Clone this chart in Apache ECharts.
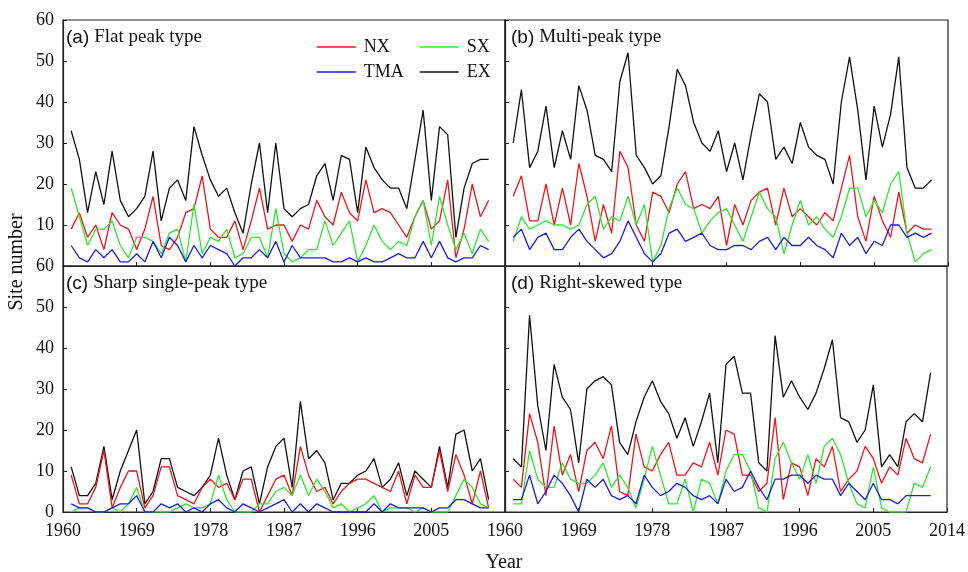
<!DOCTYPE html>
<html>
<head>
<meta charset="utf-8">
<title>Site number by year</title>
<script src="https://cdn.jsdelivr.net/npm/echarts@6/dist/echarts.min.js"></script>
<style>
  html, body { margin: 0; padding: 0; background: #fff; }
  #chart { width: 968px; height: 572px; }
</style>
</head>
<body>
<div id="chart"></div>
<script>
// years 1961..2012, one point per year
const years = Array.from({ length: 52 }, (_, i) => 1961 + i)

// (a) Flat peak type
const aNX = [9, 13, 7, 10, 4, 13, 10, 9, 4, 9, 17, 5, 4, 7, 13, 14, 22, 9, 7, 7, 11, 4, 11, 19, 9, 10, 10, 6, 10, 9, 16, 12, 10, 18, 13, 11, 21, 13, 14, 13, 10, 7, 12, 16, 9, 11, 21, 2, 9, 20, 12, 16]
const aSX = [19, 12, 5, 9, 9, 11, 5, 2, 7, 7, 6, 3, 8, 9, 1, 15, 3, 7, 6, 9, 2, 3, 7, 7, 2, 14, 3, 1, 2, 4, 4, 11, 5, 8, 11, 1, 5, 10, 6, 4, 6, 5, 12, 16, 5, 17, 10, 4, 8, 3, 9, 6]
const aTMA = [5, 2, 1, 4, 2, 4, 1, 1, 3, 1, 6, 2, 7, 5, 1, 5, 2, 5, 4, 3, 0, 2, 2, 4, 2, 6, 1, 5, 2, 2, 2, 2, 1, 1, 2, 1, 2, 1, 1, 2, 3, 2, 2, 6, 2, 6, 2, 1, 2, 2, 5, 4]
const aEX = [33, 26, 13, 23, 15, 28, 16, 12, 14, 17, 28, 11, 19, 21, 16, 34, 27, 21, 17, 19, 13, 8, 20, 30, 13, 30, 14, 12, 14, 15, 22, 25, 16, 27, 26, 13, 29, 24, 21, 19, 19, 14, 26, 38, 16, 34, 32, 7, 19, 25, 26, 26]

// (b) Multi-peak type
const bNX = [17, 22, 11, 11, 20, 10, 19, 10, 25, 17, 6, 15, 8, 28, 24, 10, 6, 18, 17, 13, 20, 23, 14, 15, 14, 17, 5, 15, 10, 16, 18, 19, 10, 19, 12, 14, 12, 10, 13, 11, 19, 27, 12, 6, 17, 11, 7, 18, 8, 10, 9, 9]
const bSX = [6, 12, 9, 10, 11, 10, 10, 9, 10, 15, 17, 9, 12, 11, 17, 10, 15, 1, 5, 14, 19, 15, 14, 8, 11, 13, 14, 10, 6, 12, 18, 14, 12, 3, 10, 16, 10, 12, 9, 7, 12, 19, 19, 12, 16, 13, 20, 23, 8, 1, 3, 4]
const bTMA = [7, 9, 4, 7, 8, 4, 4, 7, 9, 6, 4, 2, 3, 6, 11, 7, 3, 1, 3, 8, 9, 6, 7, 8, 5, 4, 4, 5, 5, 4, 6, 7, 4, 7, 5, 5, 7, 5, 4, 2, 8, 5, 7, 3, 6, 5, 10, 10, 7, 8, 7, 8]
const bEX = [30, 43, 24, 28, 39, 24, 33, 26, 44, 38, 27, 26, 23, 45, 52, 27, 24, 20, 22, 34, 48, 44, 35, 30, 28, 33, 23, 30, 21, 32, 42, 40, 26, 29, 25, 35, 29, 27, 26, 20, 40, 51, 38, 21, 39, 29, 37, 51, 24, 19, 19, 21]

// (c) Sharp single-peak type
const cNX = [9, 2, 2, 6, 15, 1, 6, 10, 10, 1, 4, 11, 11, 4, 3, 2, 6, 8, 6, 7, 3, 8, 8, 0, 4, 8, 9, 4, 16, 9, 5, 6, 2, 5, 7, 8, 8, 7, 6, 5, 10, 2, 9, 6, 6, 15, 5, 14, 9, 2, 10, 1]
const cSX = [0, 1, 1, 0, 0, 1, 0, 2, 6, 0, 0, 0, 0, 1, 2, 1, 1, 2, 9, 3, 0, 0, 0, 2, 2, 5, 6, 4, 9, 4, 8, 5, 1, 2, 0, 1, 2, 4, 0, 1, 1, 1, 0, 1, 0, 0, 0, 4, 8, 6, 2, 1]
const cTMA = [2, 1, 1, 0, 0, 1, 2, 2, 4, 0, 0, 2, 1, 2, 0, 1, 0, 2, 3, 1, 0, 2, 1, 0, 1, 2, 3, 0, 2, 0, 2, 1, 0, 0, 0, 0, 0, 2, 0, 2, 1, 1, 1, 1, 0, 1, 1, 3, 3, 2, 1, 1]
const cEX = [11, 4, 4, 7, 16, 3, 10, 15, 20, 2, 5, 13, 13, 6, 5, 4, 6, 9, 18, 9, 3, 10, 11, 2, 11, 16, 18, 6, 27, 13, 15, 12, 3, 7, 7, 9, 10, 13, 6, 8, 12, 4, 10, 8, 6, 16, 6, 19, 20, 10, 13, 3]

// (d) Right-skewed type
const dNX = [8, 6, 24, 17, 4, 21, 9, 14, 5, 15, 17, 13, 21, 5, 4, 19, 11, 10, 14, 17, 9, 9, 12, 11, 17, 9, 20, 19, 9, 9, 5, 7, 23, 3, 12, 11, 4, 13, 11, 16, 5, 8, 10, 16, 13, 7, 11, 9, 18, 13, 12, 19]
const dSX = [2, 2, 15, 8, 6, 6, 12, 8, 7, 7, 9, 12, 6, 9, 6, 1, 8, 16, 9, 2, 2, 8, 0, 8, 7, 2, 10, 14, 14, 10, 1, 0, 13, 17, 12, 8, 14, 7, 16, 18, 14, 7, 2, 1, 11, 1, 0, 0, 0, 7, 6, 11]
const dTMA = [3, 3, 9, 2, 5, 9, 7, 4, 0, 8, 6, 8, 4, 3, 4, 2, 9, 6, 4, 5, 7, 6, 4, 3, 4, 2, 8, 5, 6, 10, 6, 3, 8, 8, 9, 9, 7, 9, 8, 8, 4, 7, 5, 3, 7, 3, 3, 2, 4, 4, 4, 4]
const dEX = [13, 11, 48, 26, 15, 36, 28, 25, 12, 30, 32, 33, 31, 17, 14, 22, 28, 32, 27, 24, 18, 23, 16, 22, 29, 12, 36, 38, 29, 29, 12, 10, 43, 28, 32, 28, 25, 29, 35, 42, 23, 22, 17, 20, 31, 11, 14, 11, 22, 24, 22, 34]

const panels = [
  { tag: '(a)', name: 'Flat peak type', NX: aNX, SX: aSX, TMA: aTMA, EX: aEX },
  { tag: '(b)', name: 'Multi-peak type', NX: bNX, SX: bSX, TMA: bTMA, EX: bEX },
  { tag: '(c)', name: 'Sharp single-peak type', NX: cNX, SX: cSX, TMA: cTMA, EX: cEX },
  { tag: '(d)', name: 'Right-skewed type', NX: dNX, SX: dSX, TMA: dTMA, EX: dEX }
]
const colors = { NX: '#f0141c', SX: '#2ee82e', TMA: '#1c1ce6', EX: '#111111' }

const serif = 'Liberation Serif'
const boxes = [
  { left: 63, top: 20 },
  { left: 505, top: 20 },
  { left: 63, top: 266 },
  { left: 505, top: 266 }
]

let chart = echarts.init(document.getElementById('chart'))

const grid = boxes.map(b => ({
  left: b.left,
  top: b.top,
  width: b.left === 63 ? 442 : 443,
  height: 246,
  show: true,
  borderColor: '#222',
  borderWidth: 1.2,
  backgroundColor: 'transparent'
}))

const xAxis = boxes.map((b, i) => ({
  type: 'value',
  gridIndex: i,
  min: 1960,
  max: 2014,
  interval: 9,
  axisLine: { show: true, lineStyle: { color: '#222', width: 1.2 } },
  axisTick: { show: true, inside: true, length: 4, lineStyle: { color: '#222' } },
  splitLine: { show: false },
  axisLabel: {
    show: i >= 2,
    showMaxLabel: i === 3,
    margin: 10,
    fontFamily: serif,
    fontSize: 18,
    color: '#111',
    formatter: v => String(v)
  }
}))

const yAxis = boxes.map((b, i) => ({
  type: 'value',
  gridIndex: i,
  min: 0,
  max: 60,
  interval: 10,
  axisLine: { show: true, lineStyle: { color: '#222', width: 1.2 } },
  axisTick: { show: true, inside: true, length: 4, lineStyle: { color: '#222' } },
  splitLine: { show: false },
  axisLabel: {
    show: i === 0 || i === 2,
    showMinLabel: i === 2,
    margin: 9,
    fontFamily: serif,
    fontSize: 18,
    color: '#111'
  }
}))

const series = []
panels.forEach((p, i) => {
  ;['EX', 'NX', 'SX', 'TMA'].forEach(k => {
    series.push({
      name: k,
      type: 'line',
      xAxisIndex: i,
      yAxisIndex: i,
      symbol: 'none',
      animation: false,
      data: years.map((y, j) => [y, p[k][j]]),
      lineStyle: { color: colors[k], width: 1.3 },
      itemStyle: { color: colors[k] }
    })
  })
})

const title = panels.map((p, i) => ({
  text: '{p|' + p.tag + '} {t|' + p.name + '}',
  left: boxes[i].left + (i % 2 === 0 ? 3 : 6),
  top: boxes[i].top + 8,
  padding: 0,
  textStyle: {
    fontWeight: 'normal',
    rich: {
      p: { fontFamily: 'Liberation Sans', fontSize: 19, fontWeight: 'normal', color: '#111' },
      t: { fontFamily: serif, fontSize: 19, fontWeight: 'normal', color: '#111' }
    }
  }
}))

// line-only legend keys: hide the marker the line series adds
const legendBase = {
  orient: 'vertical',
  top: 38,
  itemWidth: 39,
  itemHeight: 14,
  itemGap: 7,
  padding: 0,
  itemStyle: { opacity: 0 },
  lineStyle: { width: 1.5 },
  textStyle: { fontFamily: serif, fontSize: 18, color: '#111', padding: [0, 0, 0, 3] }
}

chart.setOption({
  animation: false,
  title: title,
  legend: [
    Object.assign({}, legendBase, { left: 316, data: ['NX', 'TMA'] }),
    Object.assign({}, legendBase, { left: 419, data: ['SX', 'EX'] })
  ],
  grid: grid,
  xAxis: xAxis,
  yAxis: yAxis,
  series: series,
  graphic: [
    {
      type: 'text',
      x: 17,
      y: 262,
      rotation: Math.PI / 2,
      style: { text: 'Site number', font: '20px "Liberation Serif"', fill: '#111', textAlign: 'center', textVerticalAlign: 'middle' }
    },
    {
      type: 'text',
      x: 504,
      y: 563,
      style: { text: 'Year', font: '20px "Liberation Serif"', fill: '#111', textAlign: 'center', textVerticalAlign: 'middle' }
    }
  ]
})
</script>
</body>
</html>
